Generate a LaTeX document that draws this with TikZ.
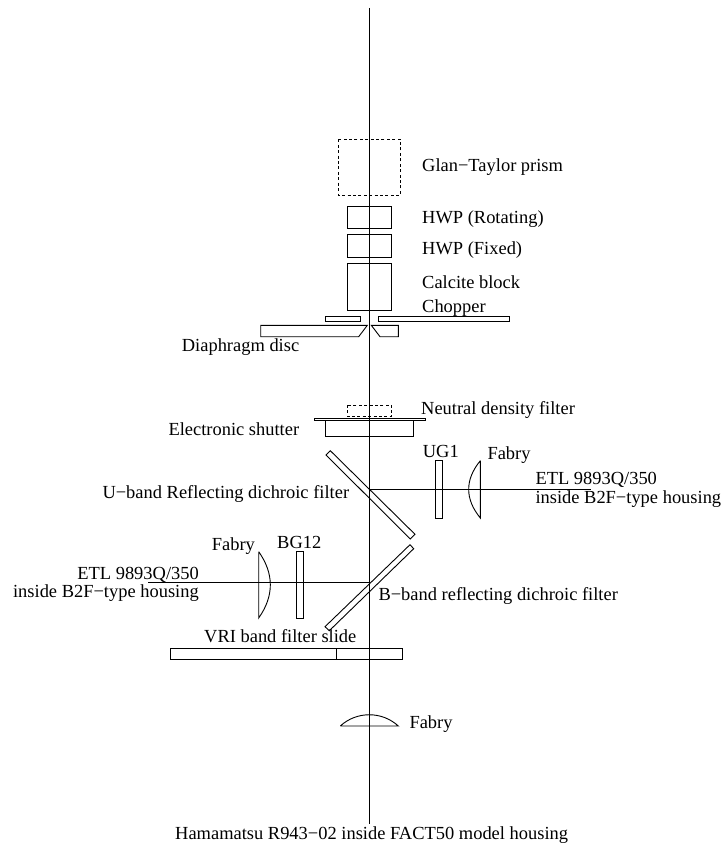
\documentclass[tikz,border=0pt]{standalone}
\usepackage{fontspec}
\setmainfont{Liberation Serif}
\tikzset{
  part/.style={draw=black,line width=0.9pt,line join=miter},
  ray/.style={draw=black,line width=0.95pt},
  dashpart/.style={draw=black,line width=0.9pt,dash pattern=on 3pt off 2.4pt},
  lbl/.style={inner sep=0pt,anchor=base west,yshift=-1pt,font=\fontsize{18.45}{20}\selectfont,text=black},
  lblr/.style={inner sep=0pt,anchor=base east,yshift=-1pt,font=\fontsize{18.45}{20}\selectfont,text=black}
}
\begin{document}
\begin{tikzpicture}[x=1pt,y=-1pt]
\useasboundingbox (0,0) rectangle (720,845);
% optical axes
\coordinate (top) at (369.5,8);
\coordinate (bot) at (369.5,824);
\coordinate (uhit) at (369.5,489);
\coordinate (uend) at (590.5,489);
\coordinate (bhit) at (369.5,582);
\coordinate (bend) at (148.3,582);
\draw[ray] (top) -- (bot);
\draw[ray] (uhit) -- (uend);
\draw[ray] (bhit) -- (bend);
% polarimeter stack
\draw[dashpart] (338.3,139.5) rectangle (400.3,195);
\draw[part] (347.3,206) rectangle (391.3,228.3);
\draw[part] (347.3,234.7) rectangle (391.3,257);
\draw[part] (347.3,263.3) rectangle (391.3,310);
% chopper
\draw[part] (325,316.7) rectangle (360.3,321.3);
\draw[part] (378.3,316.7) rectangle (509,321.3);
% diaphragm
\draw[part] (260.7,325.3) -- (367.3,325.3) -- (358.7,336.7) -- (260.7,336.7) -- cycle;
\draw[part] (371.3,325.3) -- (398.3,325.3) -- (398.3,336.7) -- (380,336.7) -- cycle;
% ND filter and shutter
\draw[dashpart] (347,405) rectangle (391.7,416.3);
\draw[part] (314,418.7) rectangle (425,420.7);
\draw[part] (325,420.7) rectangle (413.7,436);
% dichroics
\draw[part] (326,455) -- (330.3,450.7) -- (415,534.3) -- (410.3,539) -- cycle;
\draw[part] (410,544.7) -- (413.7,548.7) -- (329.3,630.7) -- (325,626.7) -- cycle;
% U arm
\draw[part] (435.7,460.3) rectangle (442.7,518);
\draw[part] (480.3,460.7) -- (480.3,518) .. controls (464.8,499) and (464.8,479.7) .. (480.3,460.7);
% B arm
\draw[part] (296.3,551.7) rectangle (303.3,618);
\draw[part] (258.7,551.7) -- (258.7,618) .. controls (274.2,596) and (274.2,573.7) .. (258.7,551.7);
% VRI slide
\draw[part] (170.3,648.3) rectangle (402.3,659.3);
\draw[part] (336.3,648.3) -- (336.3,659.3);
% Fabry lens
\draw[part] (340.3,726) -- (398.3,726) .. controls (382,711) and (356.6,711) .. (340.3,726);
% labels
\node[lbl] (glan) at (422,170.7) {Glan−Taylor prism};
\node[lbl] (hwpr) at (422,222) {HWP (Rotating)};
\node[lbl] (hwpf) at (422,253.3) {HWP (Fixed)};
\node[lbl] (calc) at (422,287.7) {Calcite block};
\node[lbl] (chop) at (422,311.7) {Chopper};
\node[lbl] (diap) at (181.7,350) {Diaphragm disc};
\node[lbl] (nd) at (421,413.3) {Neutral density filter};
\node[lbl] (shut) at (168.3,434) {Electronic shutter};
\node[lblr] (udich) at (349.3,497.7) {U−band Reflecting dichroic filter};
\node[lbl] (ug) at (422.7,456.7) {UG1};
\node[lbl] (fabu) at (487.3,458.3) {Fabry};
\node[lbl] (etlu) at (535.3,483.3) {ETL 9893Q/350};
\node[lbl] (housu) at (535.3,502.7) {inside B2F−type housing};
\node[lbl] (fabb) at (211.7,549.3) {Fabry};
\node[lbl] (bg) at (277,547.3) {BG12};
\node[lblr] (etlb) at (199,578.3) {ETL 9893Q/350};
\node[lblr] (housb) at (199,596.7) {inside B2F−type housing};
\node[lbl] (bdich) at (378.3,599) {B−band reflecting dichroic filter};
\node[lbl] (vri) at (204,641.7) {VRI band filter slide};
\node[lbl] (fabm) at (409.3,727.7) {Fabry};
\node[lbl] (ham) at (175,838.3) {Hamamatsu R943−02 inside FACT50 model housing};
\end{tikzpicture}
\end{document}
